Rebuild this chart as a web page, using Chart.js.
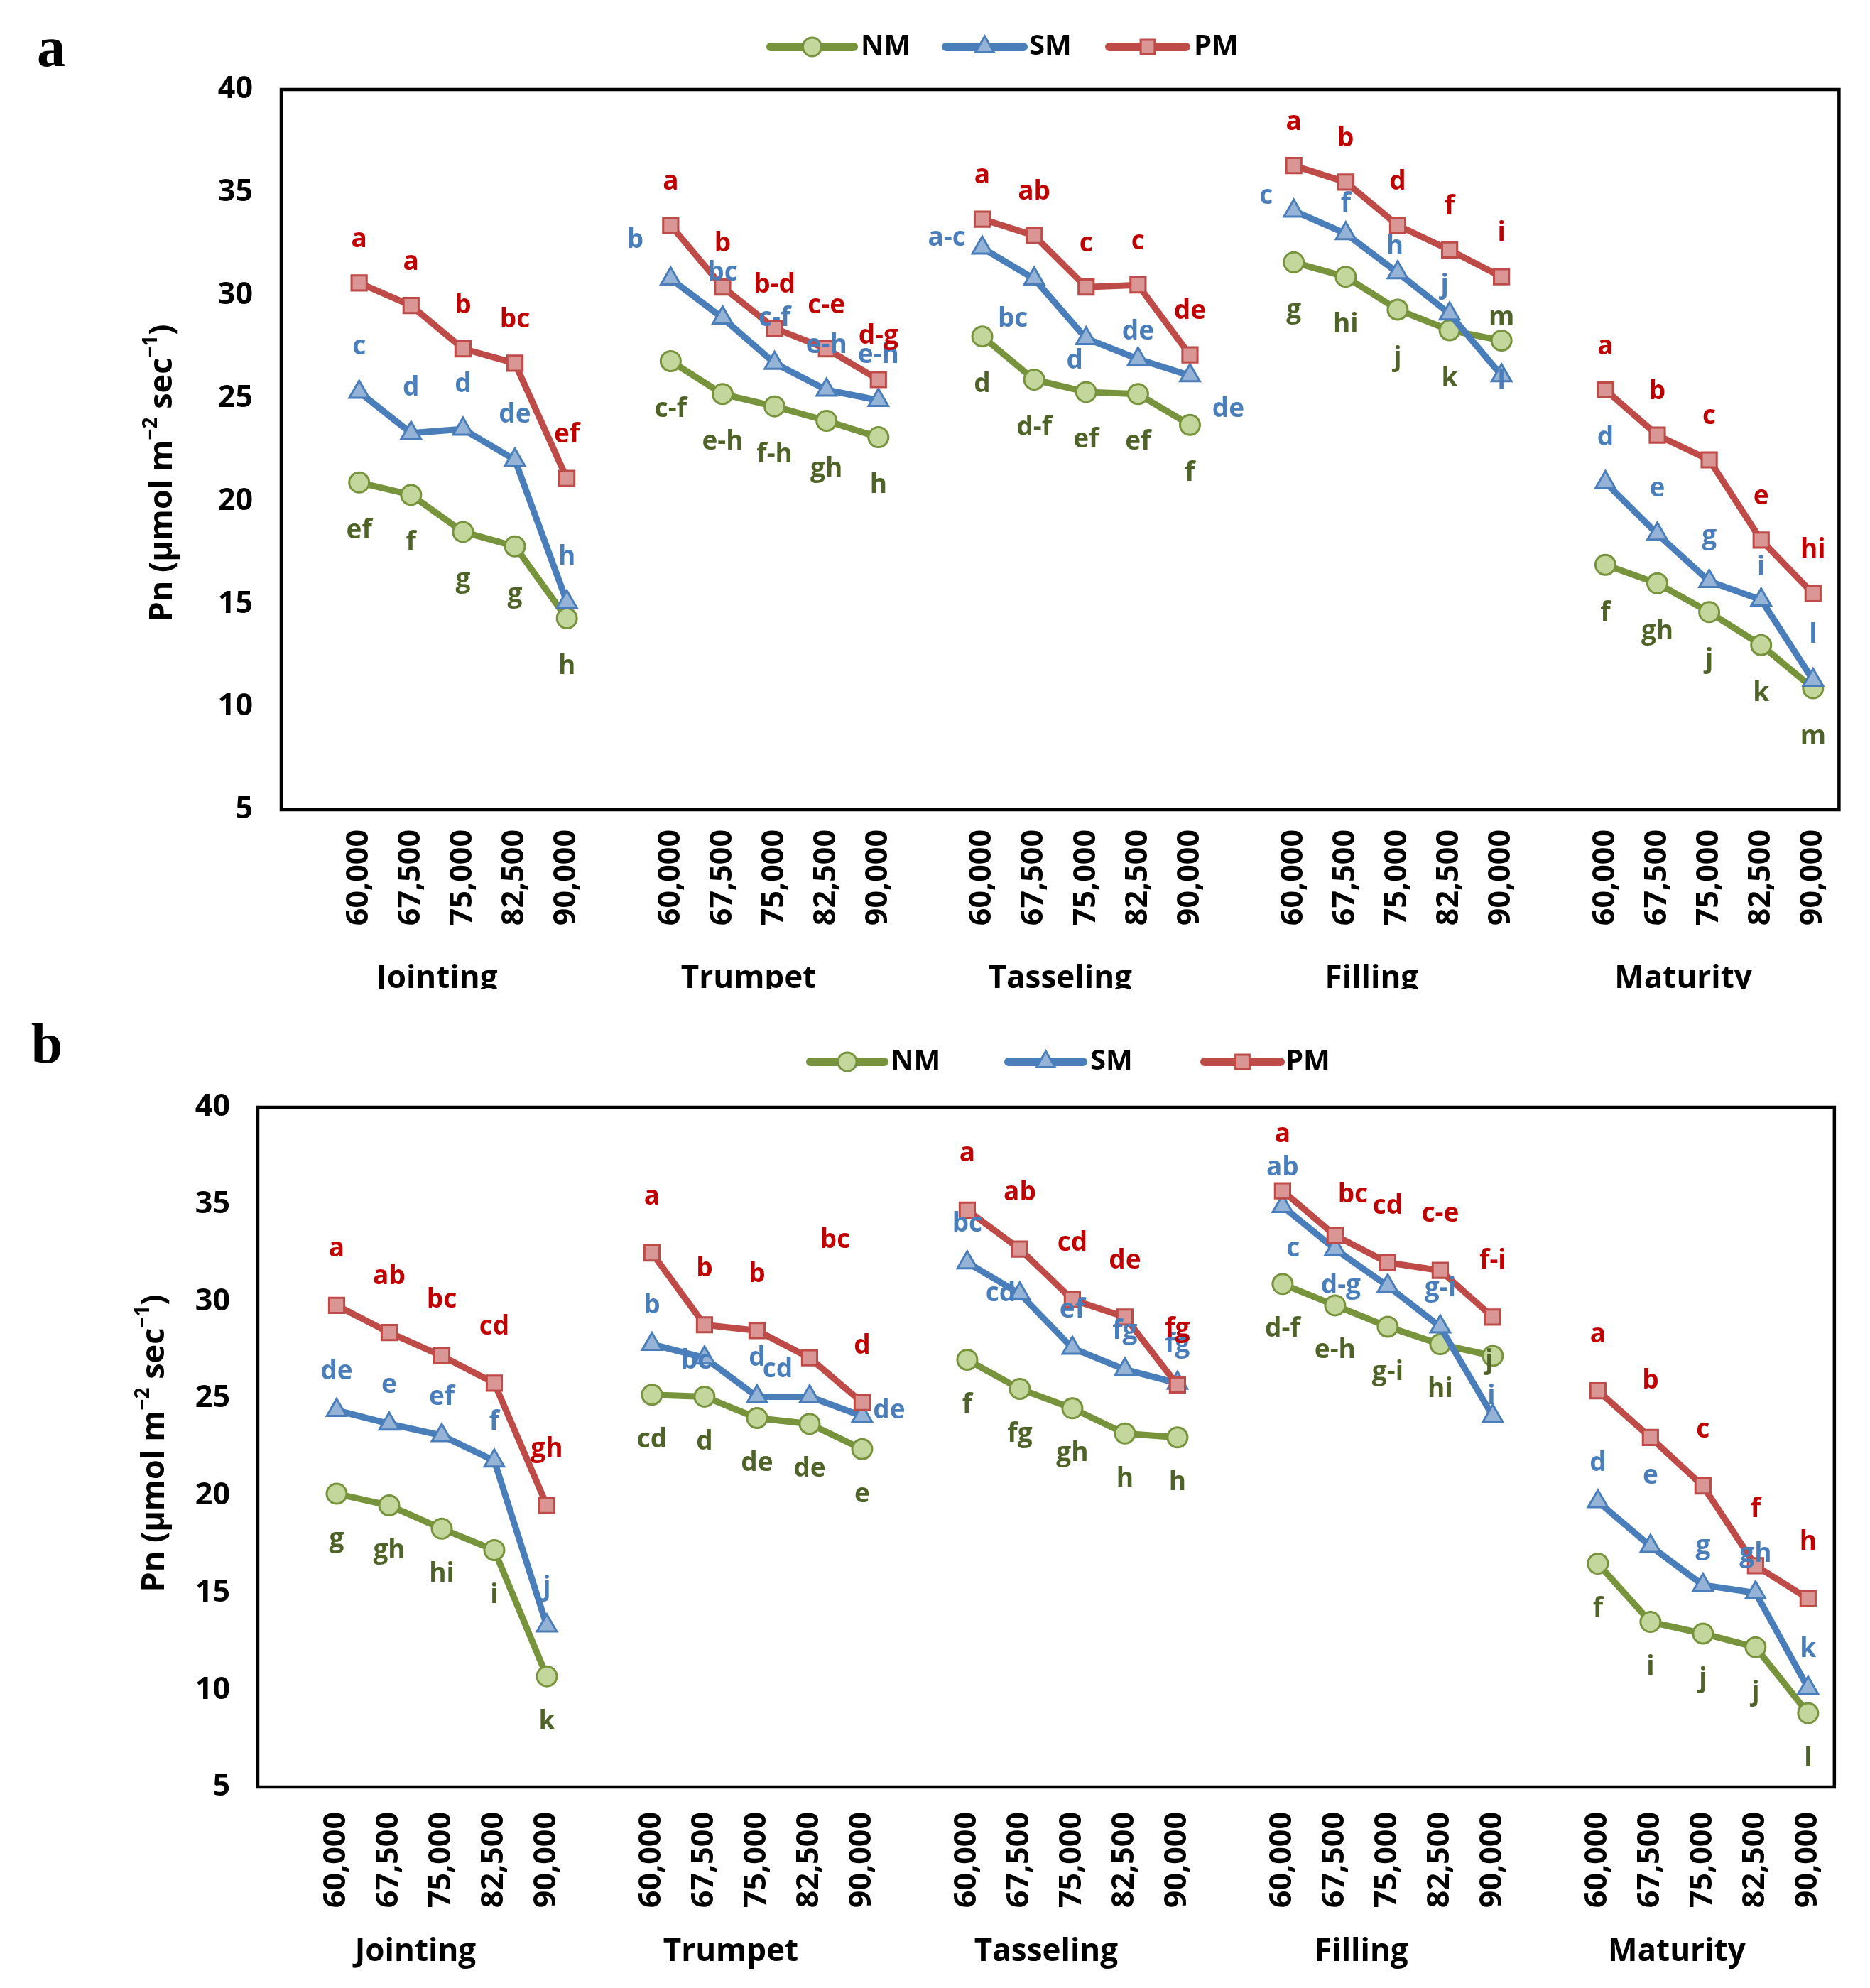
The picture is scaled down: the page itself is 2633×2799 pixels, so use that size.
<!DOCTYPE html>
<html>
<head>
<meta charset="utf-8">
<script src="https://cdn.jsdelivr.net/npm/chart.js@4.4.1/dist/chart.umd.min.js"></script>
<style>
  html, body { margin: 0; padding: 0; background: #fff; width: 2633px; height: 2799px; overflow: hidden; }
  .panel { position: absolute; left: 0; width: 2633px; overflow: hidden; }
  #pa { top: 0; height: 1393px; }
  #pb { top: 1393px; height: 1406px; }
</style>
</head>
<body>
<div class="panel" id="pa"><canvas id="ca" width="2633" height="1393"></canvas></div>
<div class="panel" id="pb"><canvas id="cb" width="2633" height="1406"></canvas></div>
<script>
    // ---------------------------
    // Data
    // ---------------------------
    const stages = ["Jointing", "Trumpet", "Tasseling", "Filling", "Maturity"];
    const densities = ["60,000", "67,500", "75,000", "82,500", "90,000"];

    // panel a, Pn per stage x density (5 x 5)
    const aNM = [20.9, 20.3, 18.5, 17.8, 14.3,  26.8, 25.2, 24.6, 23.9, 23.1,  28.0, 25.9, 25.3, 25.2, 23.7,  31.6, 30.9, 29.3, 28.3, 27.8,  16.9, 16.0, 14.6, 13.0, 10.9];
    const aSM = [25.3, 23.3, 23.5, 22.0, 15.1,  30.8, 28.9, 26.7, 25.4, 24.9,  32.3, 30.8, 27.9, 26.9, 26.1,  34.1, 33.0, 31.1, 29.1, 26.1,  20.9, 18.4, 16.1, 15.2, 11.3];
    const aPM = [30.6, 29.5, 27.4, 26.7, 21.1,  33.4, 30.4, 28.4, 27.4, 25.9,  33.7, 32.9, 30.4, 30.5, 27.1,  36.3, 35.5, 33.4, 32.2, 30.9,  25.4, 23.2, 22.0, 18.1, 15.5];
    const aNMsig = ["ef", "f", "g", "g", "h",  "c-f", "e-h", "f-h", "gh", "h",  "d", "d-f", "ef", "ef", "f",  "g", "hi", "j", "k", "m",  "f", "gh", "j", "k", "m"];
    const aSMsig = ["c", "d", "d", "de", "h",  "b", "bc", "c-f", "e-h", "e-h",  "a-c", "bc", "d", "de", "de",  "c", "f", "h", "j", "l",  "d", "e", "g", "i", "l"];
    const aPMsig = ["a", "a", "b", "bc", "ef",  "a", "b", "b-d", "c-e", "d-g",  "a", "ab", "c", "c", "de",  "a", "b", "d", "f", "i",  "a", "b", "c", "e", "hi"];

    // panel b
    const bNM = [20.1, 19.5, 18.3, 17.2, 10.7,  25.2, 25.1, 24.0, 23.7, 22.4,  27.0, 25.5, 24.5, 23.2, 23.0,  30.9, 29.8, 28.7, 27.8, 27.2,  16.5, 13.5, 12.9, 12.2, 8.8];
    const bSM = [24.4, 23.7, 23.1, 21.8, 13.3,  27.8, 27.1, 25.1, 25.1, 24.1,  32.0, 30.4, 27.6, 26.5, 25.8,  34.9, 32.7, 30.8, 28.7, 24.1,  19.7, 17.4, 15.4, 15.0, 10.1];
    const bPM = [29.8, 28.4, 27.2, 25.8, 19.5,  32.5, 28.8, 28.5, 27.1, 24.8,  34.7, 32.7, 30.1, 29.2, 25.7,  35.7, 33.4, 32.0, 31.6, 29.2,  25.4, 23.0, 20.5, 16.4, 14.7];
    const bNMsig = ["g", "gh", "hi", "i", "k",  "cd", "d", "de", "de", "e",  "f", "fg", "gh", "h", "h",  "d-f", "e-h", "g-i", "hi", "j",  "f", "i", "j", "j", "l"];
    const bSMsig = ["de", "e", "ef", "f", "j",  "b", "bc", "d", "cd", "de",  "bc", "cd", "ef", "fg", "fg",  "ab", "c", "d-g", "g-i", "i",  "d", "e", "g", "gh", "k"];
    const bPMsig = ["a", "ab", "bc", "cd", "gh",  "a", "b", "b", "bc", "d",  "a", "ab", "cd", "de", "fg",  "a", "bc", "cd", "c-e", "f-i",  "a", "b", "c", "f", "h"];

    // ---------------------------
    // Helpers
    // ---------------------------
    // one empty slot in front of every stage, like the Excel multi-level axis
    const slotLabels = [];
    stages.forEach(() => { slotLabels.push(""); densities.forEach(d => slotLabels.push(d)); });

    function toSlots(vals) {
      const out = [];
      stages.forEach((s, g) => {
        out.push(null);
        for (let i = 0; i < densities.length; i++) out.push(vals[g * densities.length + i]);
      });
      return out;
    }
    function slotIndex(p) { return Math.floor(p / 5) * 6 + 1 + (p % 5); }

    const FONT = '"Open Sans", "DejaVu Sans", sans-serif';
    const series = {
      NM: { line: "#77933C", fill: "#C3D69B", text: "#4F6228", style: "circle", radius: 14 },
      SM: { line: "#4A7EBB", fill: "#95B3D7", text: "#4A7EBB", style: "triangle", radius: 16 },
      PM: { line: "#BE4B48", fill: "#D99694", text: "#C00000", style: "rect", radius: 15 }
    };

    function drawYTitle(ctx, cx, cy) {
      const parts = [["Pn (\u00b5mol m", 0], ["\u22122", 1], [" sec", 0], ["\u22121", 1], [")", 0]];
      const big = "bold 45px " + FONT, small = "bold 28px " + FONT;
      ctx.save();
      ctx.translate(cx, cy);
      ctx.rotate(-Math.PI / 2);
      let total = 0;
      parts.forEach(([t, s]) => { ctx.font = s ? small : big; total += ctx.measureText(t).width; });
      let x = -total / 2;
      ctx.textAlign = "left";
      ctx.textBaseline = "middle";
      ctx.fillStyle = "#000";
      parts.forEach(([t, s]) => {
        ctx.font = s ? small : big;
        ctx.fillText(t, x, s ? -16 : 0);
        x += ctx.measureText(t).width;
      });
      ctx.restore();
    }

    // border, legend, letters, titles
    const panelDeco = {
      id: "panelDeco",
      afterDraw(chart, args, opts) {
        const ctx = chart.ctx;
        const area = chart.chartArea;
        ctx.save();

        // plot frame
        ctx.lineWidth = 4.5;
        ctx.strokeStyle = "#000";
        ctx.strokeRect(area.left, area.top, area.right - area.left, area.bottom - area.top);

        // significance letters
        ctx.font = "bold 37px " + FONT;
        ctx.textAlign = "center";
        ctx.textBaseline = "middle";
        chart.data.datasets.forEach((ds, di) => {
          const meta = chart.getDatasetMeta(di);
          const key = ds.label;
          ctx.fillStyle = series[key].text;
          ds.sig.forEach((txt, p) => {
            const el = meta.data[slotIndex(p)];
            const n = opts.nudges[key + ":" + p];
            const dx = n ? n[0] : 0;
            const dy = n ? n[1] : opts.offs[key];
            ctx.fillText(txt, el.x + dx, el.y + dy);
          });
        });

        // stage labels under the density ticks
        const x = chart.scales.x;
        ctx.fillStyle = "#000";
        ctx.font = "bold 44px " + FONT;
        stages.forEach((s, g) => {
          const cx = (x.getPixelForValue(g * 6) + x.getPixelForValue(g * 6 + 5)) / 2;
          ctx.fillText(s, cx, opts.stageY);
        });

        // legend: line with marker in the middle
        opts.legend.forEach(item => {
          const st = series[item.k];
          ctx.strokeStyle = st.line;
          ctx.lineWidth = 12;
          ctx.lineCap = "round";
          ctx.beginPath();
          ctx.moveTo(item.x1, opts.legendY);
          ctx.lineTo(item.x2, opts.legendY);
          ctx.stroke();
          ctx.fillStyle = st.fill;
          ctx.lineWidth = 3;
          Chart.helpers.drawPoint(ctx, { pointStyle: st.style, radius: st.radius - 1, rotation: 0, borderWidth: 3 },
            (item.x1 + item.x2) / 2, opts.legendY);
          ctx.fillStyle = "#000";
          ctx.font = "bold 40px " + FONT;
          ctx.textAlign = "left";
          ctx.fillText(item.k, item.tx, opts.legendY);
        });

        // panel tag
        ctx.font = "bold 80px 'Liberation Serif', serif";
        ctx.textAlign = "center";
        ctx.textBaseline = "alphabetic";
        ctx.fillStyle = "#000";
        ctx.fillText(opts.tag, opts.tagX, opts.tagY);

        drawYTitle(ctx, opts.titleX, opts.titleY);
        ctx.restore();
      }
    };

    function makeChart(id, vals, sigs, cfg) {
      return new Chart(document.getElementById(id), {
        type: "line",
        data: {
          labels: slotLabels,
          datasets: ["NM", "SM", "PM"].map((k, i) => ({
            label: k,
            data: toSlots(vals[k]),
            sig: sigs[k],
            order: 2 - i,
            borderColor: series[k].line,
            borderWidth: 9,
            tension: 0,
            fill: false,
            spanGaps: false,
            pointStyle: series[k].style,
            pointRadius: series[k].radius,
            pointBackgroundColor: series[k].fill,
            pointBorderColor: series[k].line,
            pointBorderWidth: 3
          }))
        },
        options: {
          responsive: false,
          animation: false,
          devicePixelRatio: 1,
          layout: { padding: { top: cfg.top, right: 34, bottom: 0, left: 0 } },
          plugins: { legend: { display: false }, tooltip: { enabled: false }, panelDeco: cfg },
          scales: {
            x: {
              type: "category",
              offset: true,
              grid: { display: false, drawTicks: false },
              border: { display: false },
              ticks: { autoSkip: false, minRotation: 90, maxRotation: 90, padding: cfg.xPad, color: "#000",
                       font: { family: FONT, size: 43, weight: "bold" } },
              afterFit: s => { s.height = cfg.xHeight; }
            },
            y: {
              min: 5, max: 40,
              grid: { display: false, drawTicks: false },
              border: { display: false },
              ticks: { stepSize: 5, padding: cfg.yPad, color: "#000",
                       font: { family: FONT, size: 43, weight: "bold" } },
              afterFit: s => { s.width = cfg.left; }
            }
          }
        },
        plugins: [panelDeco]
      });
    }

    makeChart("ca", { NM: aNM, SM: aSM, PM: aPM }, { NM: aNMsig, SM: aSMsig, PM: aPMsig }, {
      top: 126, left: 396, xHeight: 253, xPad: 28, yPad: 40,
      legendY: 66,
      legend: [{ k: "NM", x1: 1085, x2: 1202, tx: 1212 }, { k: "SM", x1: 1332, x2: 1441, tx: 1449 }, { k: "PM", x1: 1562, x2: 1670, tx: 1681 }],
      tag: "a", tagX: 72, tagY: 93, titleX: 229, titleY: 666, stageY: 1378,
      offs: { NM: 68, SM: -63, PM: -61 },
      nudges: { "SM:5": [-50, -54], "SM:10": [-50, -14], "SM:11": [-30, 57], "SM:12": [-16, 32], "SM:13": [0, -38],
                "SM:14": [54, 48], "SM:15": [-39, -20], "SM:16": [0, -41], "SM:17": [-4, -36], "SM:18": [-7, -39],
                "SM:19": [0, 9], "NM:19": [0, -32], "SM:23": [0, -45] }
    });

    makeChart("cb", { NM: bNM, SM: bSM, PM: bPM }, { NM: bNMsig, SM: bSMsig, PM: bPMsig }, {
      top: 166, left: 363, xHeight: 283, xPad: 35, yPad: 39,
      legendY: 102,
      legend: [{ k: "NM", x1: 1141, x2: 1245, tx: 1254 }, { k: "SM", x1: 1420, x2: 1525, tx: 1535 }, { k: "PM", x1: 1696, x2: 1803, tx: 1810 }],
      tag: "b", tagX: 66, tagY: 103, titleX: 218, titleY: 639, stageY: 1355,
      offs: { NM: 64, SM: -54, PM: -79 },
      nudges: { "PM:8": [36, -165], "SM:6": [-12, 5], "SM:8": [-45, -38], "SM:9": [38, -7], "SM:11": [-27, 0],
                "PM:16": [25, -57], "SM:16": [-59, 0], "SM:17": [-66, 0], "SM:19": [-2, -27], "NM:19": [-5, 7],
                "SM:21": [0, -98] }
    });
</script>
</body>
</html>
